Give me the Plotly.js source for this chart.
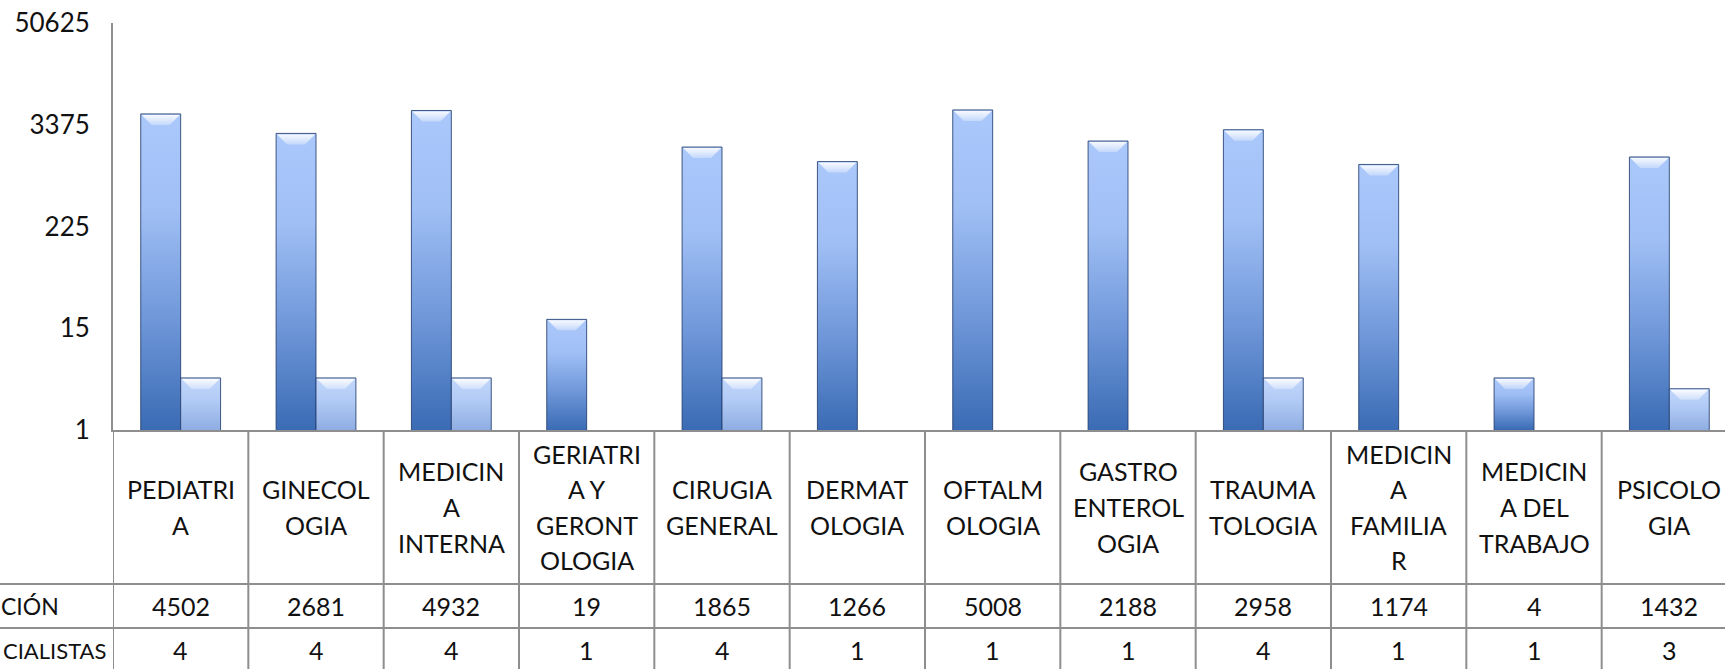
<!DOCTYPE html>
<html>
<head>
<meta charset="utf-8">
<script src="https://cdn.plot.ly/plotly-3.0.1.min.js"></script>
<style>
  html, body { margin: 0; padding: 0; background: #fff; overflow: hidden; }
  #chart { width: 1745px; height: 669px; }
</style>
</head>
<body>
<div id="chart"></div>
<script>
// ---- data ----
const categories = [
  "PEDIATRI<br>A",
  "GINECOL<br>OGIA",
  "MEDICIN<br>A<br>INTERNA",
  "GERIATRI<br>A Y<br>GERONT<br>OLOGIA",
  "CIRUGIA<br>GENERAL",
  "DERMAT<br>OLOGIA",
  "OFTALM<br>OLOGIA",
  "GASTRO<br>ENTEROL<br>OGIA",
  "TRAUMA<br>TOLOGIA",
  "MEDICIN<br>A<br>FAMILIA<br>R",
  "MEDICIN<br>A DEL<br>TRABAJO",
  "PSICOLO<br>GIA"
];
const atenciones = [4502, 2681, 4932, 19, 1865, 1266, 5008, 2188, 2958, 1174, 4, 1432];
const especialistas = [4, 4, 4, 1, 4, 1, 1, 1, 4, 1, 1, 3];
// row labels as visible in the picture (cut at the left edge)
const rowLabels = ["CIÓN", "CIALISTAS"];
const yTicks = [1, 15, 225, 3375, 50625];

// ---- geometry helpers (pixel layout of the picture) ----
const W = 1745, H = 669;
const mL = 113, mR = 8, mT = 23, mB = 239;
const plotH = H - mT - mB;           // 407
const plotW = W - mL - mR;           // 1624
const baseY = H - mB;                // 430
const py = px => (baseY - px) / plotH;    // pixel y -> paper y
const pxX = px => (px - mL) / plotW;      // pixel x -> paper x

const FONT = 'Lato, "Open Sans", sans-serif';
const TXT = '#111111';
const LINE = '#8e8e8e';

const xIdx = categories.map((c, i) => i);

const data = [
  {
    type: 'bar', x: xIdx, y: atenciones, name: 'ATENCIÓN',
    marker: { color: '#6f97d6', line: { color: 'rgba(35,62,110,0.85)', width: 1 } },
    hoverinfo: 'none'
  },
  {
    type: 'bar', x: xIdx, y: especialistas, name: 'ESPECIALISTAS',
    marker: { color: '#a9c3ef', line: { color: 'rgba(35,62,110,0.85)', width: 1 } },
    hoverinfo: 'none'
  }
];

const shapes = [];
for (let i = 0; i <= categories.length; i++) {
  shapes.push({ type: 'line', xref: 'x', yref: 'paper', x0: i - 0.5, x1: i - 0.5,
    y0: 0, y1: py(H + 5), line: { color: LINE, width: 2 } });
}
[584, 628].forEach(yy => {
  shapes.push({ type: 'line', xref: 'paper', yref: 'paper', x0: pxX(-5), x1: 1.02,
    y0: py(yy), y1: py(yy), line: { color: LINE, width: 2 } });
});

const annotations = [];
const headerCenter = 507, lineGap = 35.5;
const FS = 25;
categories.forEach((c, i) => {
  const lines = c.split('<br>');
  const n = lines.length;
  lines.forEach((ln, k) => {
    const yc = headerCenter + (k - (n - 1) / 2) * lineGap;
    annotations.push({ xref: 'x', yref: 'paper', x: i, y: py(yc), text: ln,
      showarrow: false, xanchor: 'center', yanchor: 'middle',
      font: { family: FONT, size: FS, color: TXT } });
  });
  annotations.push({ xref: 'x', yref: 'paper', x: i, y: py(606), text: String(atenciones[i]),
    showarrow: false, xanchor: 'center', yanchor: 'middle',
    font: { family: FONT, size: FS, color: TXT } });
  annotations.push({ xref: 'x', yref: 'paper', x: i, y: py(650), text: String(especialistas[i]),
    showarrow: false, xanchor: 'center', yanchor: 'middle',
    font: { family: FONT, size: FS, color: TXT } });
});
annotations.push({ xref: 'paper', yref: 'paper', x: pxX(61), y: py(606), text: rowLabels[0],
  showarrow: false, xanchor: 'right', yanchor: 'middle',
  font: { family: FONT, size: 23, color: TXT } });
annotations.push({ xref: 'paper', yref: 'paper', x: pxX(108), y: py(650), text: rowLabels[1],
  showarrow: false, xanchor: 'right', yanchor: 'middle',
  font: { family: FONT, size: 22, color: TXT } });

const layout = {
  width: W, height: H,
  margin: { l: mL, r: mR, t: mT, b: mB, pad: 0 },
  paper_bgcolor: '#ffffff', plot_bgcolor: '#ffffff',
  showlegend: false,
  barmode: 'group', bargap: 0.41, bargroupgap: 0,
  xaxis: {
    type: 'category', range: [-0.5, categories.length - 0.5],
    showticklabels: false, ticks: '', showgrid: false, zeroline: false,
    showline: true, linecolor: LINE, linewidth: 2, fixedrange: true
  },
  yaxis: {
    type: 'log', range: [0, Math.log10(50625)],
    tickmode: 'array', tickvals: yTicks, ticktext: yTicks.map(String),
    ticks: '', ticklabelstandoff: 16, showgrid: false, zeroline: false,
    showline: true, linecolor: LINE, linewidth: 2,
    tickfont: { family: FONT, size: 26, color: TXT }, fixedrange: true
  },
  shapes: shapes,
  annotations: annotations
};

Plotly.newPlot('chart', data, layout, { staticPlot: true, displayModeBar: false }).then(gd => {
  const NS = 'http://www.w3.org/2000/svg';
  const svg = gd.querySelector('.main-svg');
  let defs = svg.querySelector('defs');
  if (!defs) { defs = document.createElementNS(NS, 'defs'); svg.insertBefore(defs, svg.firstChild); }
  const L = gd._fullLayout.yaxis._length;   // visible bottom of the bars (plot-area coords)
  let gid = 0;
  function grad(y1, y2, stops) {
    const id = 'bg' + (gid++);
    const g = document.createElementNS(NS, 'linearGradient');
    g.setAttribute('id', id);
    g.setAttribute('gradientUnits', 'userSpaceOnUse');
    g.setAttribute('x1', '0'); g.setAttribute('y1', String(y1));
    g.setAttribute('x2', '0'); g.setAttribute('y2', String(y2));
    stops.forEach(([o, c, a]) => {
      const s = document.createElementNS(NS, 'stop');
      s.setAttribute('offset', o);
      s.setAttribute('stop-color', c);
      s.setAttribute('stop-opacity', a === undefined ? '1' : String(a));
      g.appendChild(s);
    });
    defs.appendChild(g);
    return id;
  }
  const STOPS = [
    [['0', '#abc8fb'], ['0.3', '#a0bff5'], ['0.65', '#6f97d9'], ['1', '#3a6bb4']],
    [['0', '#c2d7fc'], ['0.45', '#b1caf5'], ['1', '#8fade2']]
  ];
  gd.querySelectorAll('.barlayer .trace').forEach((tr, ti) => {
    Array.from(tr.querySelectorAll('path')).forEach(p => {
      const bb = p.getBBox();
      const top = bb.y;
      const bottom = Math.min(bb.y + bb.height, L);
      if (bottom - top < 1.5) { p.style.display = 'none'; return; }
      const id = grad(top, bottom, STOPS[ti]);
      p.style.fill = 'url(#' + id + ')';
      const b = 10;
      if (bottom - top > 2 * b && bb.width > 2 * b) {
        const x = bb.x + 1, y = top + 1, w = bb.width - 2;
        const bid = grad(y, y + b, [['0', '#ffffff', 0.9], ['1', '#ffffff', 0.3]]);
        const bev = document.createElementNS(NS, 'path');
        bev.setAttribute('d', `M${x},${y}H${x + w}L${x + w - b},${y + b}H${x + b}Z`);
        bev.style.fill = 'url(#' + bid + ')';
        p.parentNode.appendChild(bev);
      }
    });
  });
});
</script>
</body>
</html>
